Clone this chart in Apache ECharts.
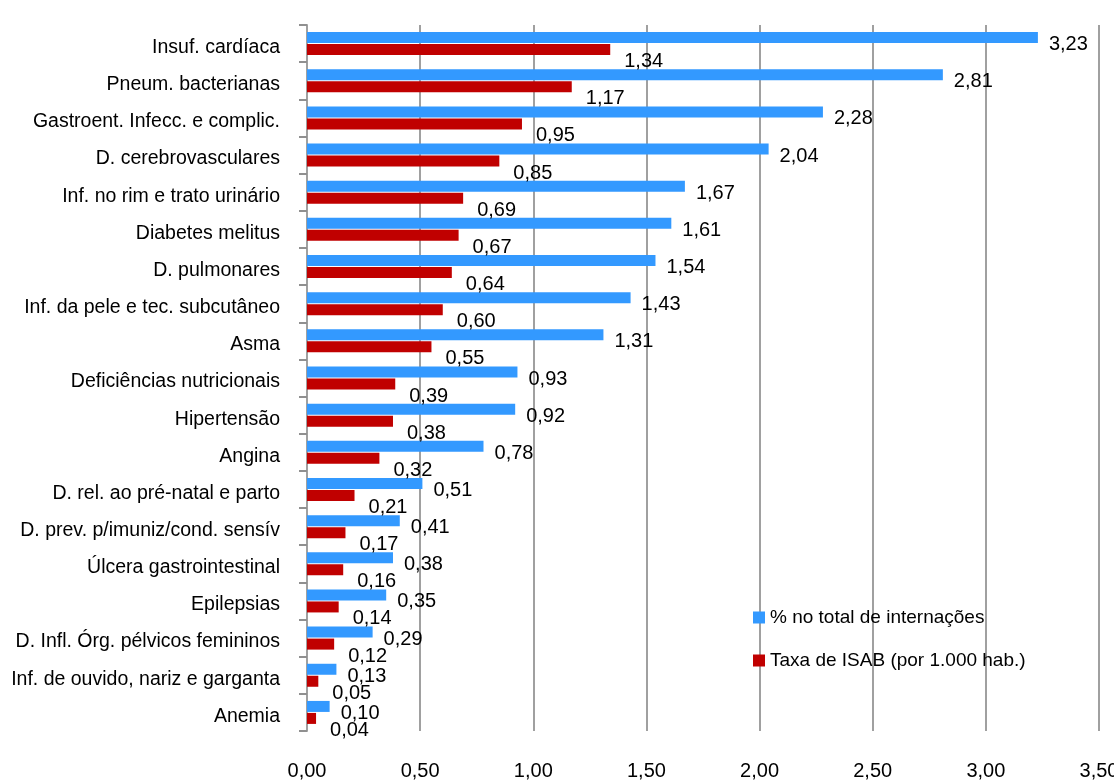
<!DOCTYPE html>
<html>
<head>
<meta charset="utf-8">
<script src="https://cdn.jsdelivr.net/npm/echarts@6/dist/echarts.min.js"></script>
<style>
    html, body { margin: 0; padding: 0; background: #fff; }
    #chart { width: 1114px; height: 781px; }
</style>
</head>
<body>
<div id="chart"></div>
<script>
// categories, top to bottom
const categories = [
    'Insuf. cardíaca', 'Pneum. bacterianas', 'Gastroent. Infecc. e complic.',
    'D. cerebrovasculares', 'Inf. no rim e trato urinário', 'Diabetes melitus',
    'D. pulmonares', 'Inf. da pele e tec. subcutâneo', 'Asma',
    'Deficiências nutricionais', 'Hipertensão', 'Angina',
    'D. rel. ao pré-natal e parto', 'D. prev. p/imuniz/cond. sensív',
    'Úlcera gastrointestinal', 'Epilepsias', 'D. Infl. Órg. pélvicos femininos',
    'Inf. de ouvido, nariz e garganta', 'Anemia'
];
const pctInternacoes = [3.23, 2.81, 2.28, 2.04, 1.67, 1.61, 1.54, 1.43, 1.31, 0.93, 0.92, 0.78, 0.51, 0.41, 0.38, 0.35, 0.29, 0.13, 0.10];
const taxaIsab = [1.34, 1.17, 0.95, 0.85, 0.69, 0.67, 0.64, 0.60, 0.55, 0.39, 0.38, 0.32, 0.21, 0.17, 0.16, 0.14, 0.12, 0.05, 0.04];
const seriesNames = ['% no total de internações', 'Taxa de ISAB (por 1.000 hab.)'];

const fmt = v => v.toFixed(2).replace('.', ',');
const font = 'Liberation Sans, Arial, sans-serif';

const chart = echarts.init(document.getElementById('chart'));

const option = {
    animation: false,
    textStyle: { fontFamily: font },
    grid: { left: 307, right: 15, top: 25, bottom: 50, outerBoundsMode: 'none' },
    legend: {
        orient: 'vertical',
        left: 748,
        top: 603,
        itemWidth: 12,
        itemHeight: 12,
        itemGap: 24,
        icon: 'rect',
        textStyle: { fontSize: 19, color: '#000', fontFamily: font },
        data: seriesNames
    },
    xAxis: {
        type: 'value',
        min: 0,
        max: 3.5,
        interval: 0.5,
        axisLine: { show: false },
        axisTick: { show: false },
        axisLabel: {
            margin: 30,
            fontSize: 20,
            color: '#000',
            formatter: v => fmt(v)
        },
        splitLine: { lineStyle: { color: '#a0a0a0', width: 2 } }
    },
    yAxis: {
        type: 'category',
        inverse: true,
        data: categories,
        axisLine: { lineStyle: { color: '#a0a0a0', width: 2 } },
        axisTick: { show: true, length: 8, lineStyle: { color: '#909090', width: 2 } },
        axisLabel: {
            margin: 27,
            fontSize: 19.5,
            color: '#000',
            verticalAlign: 'top',
            lineHeight: 8
        }
    },
    series: [
        {
            name: seriesNames[0],
            type: 'bar',
            data: pctInternacoes,
            barWidth: 11,
            barGap: '9%',
            itemStyle: { color: '#3399ff' },
            label: {
                show: true,
                position: 'right',
                distance: 11,
                offset: [0, 7],
                fontSize: 20,
                color: '#000',
                formatter: p => fmt(p.value)
            }
        },
        {
            name: seriesNames[1],
            type: 'bar',
            data: taxaIsab,
            barWidth: 11,
            itemStyle: { color: '#c00000' },
            label: {
                show: true,
                position: 'right',
                distance: 14,
                offset: [0, 12],
                fontSize: 20,
                color: '#000',
                formatter: p => fmt(p.value)
            }
        }
    ]
};

chart.setOption(option);
</script>
</body>
</html>
